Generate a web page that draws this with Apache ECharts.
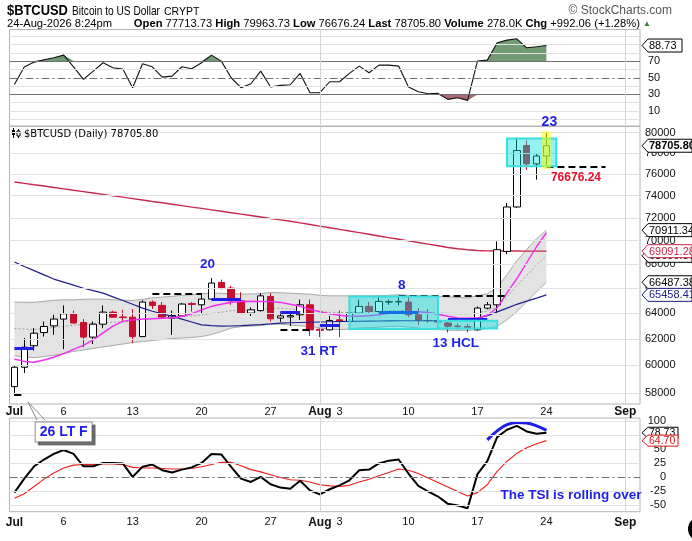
<!DOCTYPE html>
<html><head><meta charset="utf-8">
<script src="https://cdn.jsdelivr.net/npm/echarts@6/dist/echarts.min.js"></script>
<style>html,body{margin:0;padding:0;background:#fff;}#chart{width:692px;height:541px;}</style>
</head><body><div id="chart"></div>
<script>
// ---------- categories ----------
const dates = ['Jul 1','Jul 2','Jul 3','Jul 4','Jul 5','Jul 6','Jul 7','Jul 8','Jul 9','Jul 10','Jul 11','Jul 12','Jul 13','Jul 14','Jul 15','Jul 16','Jul 17','Jul 18','Jul 19','Jul 20','Jul 21','Jul 22','Jul 23','Jul 24','Jul 25','Jul 26','Jul 27','Jul 28','Jul 29','Jul 30','Jul 31','Aug 1','Aug 2','Aug 3','Aug 4','Aug 5','Aug 6','Aug 7','Aug 8','Aug 9','Aug 10','Aug 11','Aug 12','Aug 13','Aug 14','Aug 15','Aug 16','Aug 17','Aug 18','Aug 19','Aug 20','Aug 21','Aug 22','Aug 23','Aug 24','Aug 25','Aug 26','Aug 27','Aug 28','Aug 29','Aug 30','Aug 31','Sep 1','Sep 2'];
const xLabelMap = {'Jul 1':'Jul','Jul 6':'6','Jul 13':'13','Jul 20':'20','Jul 27':'27','Aug 1':'Aug','Aug 3':'3','Aug 10':'10','Aug 17':'17','Aug 24':'24','Sep 1':'Sep'};
const monthNames = ['Jul','Aug','Sep'];

// ---------- price (OHLC) ----------
const opens  = [58440,59860,61470,62480,63000,63530,63950,63260,62130,63130, 64080,63700,63680,62170,64880,64610,63610,63780,64760,64660, 65120,66470,66010,64980,64000,64200,65330,63610,63700,63870, 64660,62740,62690,63470,63340,64000,64530,64130,64880,64900, 64880,63870,63420,63400,63220,62980,62950,62690,64400,64660, 69070,72970,78720,76960,77713.73];
const closes = [59860,61360,62430,62950,63530,63950,63220,62130,63130,64080, 63680,63650,62170,64880,64610,63680,63810,64720,64690,65120, 66420,66010,64980,64000,64260,65380,63550,63780,63800,64660, 62690,62650,63420,63340,64000,64530,64130,64930,64900,64910, 63870,63420,63400,63300,62970,62950,62800,64400,64660,69220, 72970,78240,76960,77713.74,78705.80];
const lows   = [57780,59430,61100,62170,62300,61210,63150,61360,61600,62820, 63650,63390,61660,62130,64320,63530,62300,63730,64120,64000, 65100,65900,64660,63950,63780,64120,63340,63300,63000,63470, 62220,62130,62650,62130,63300,63950,64000,64050,64660,64610, 63680,63080,63220,62900,62480,62700,62500,62630,64300,64000, 68830,72900,76400,75480,76676.24];
const highs  = [60000,62060,62820,63340,63870,64610,64200,63530,63340,64610, 64200,64260,64320,65010,65010,64880,64200,64800,64880,65600, 66830,66700,66200,65680,64450,65600,65600,64050,64100,65080, 65080,62800,63780,64200,64400,65080,64880,65380,65080,65380, 65330,64400,64320,63700,63300,63200,63150,64520,64880,69930, 73330,79410,79210,78000,79963.73];

// ---------- overlays ----------
const sma200 = [75260,75130,75000,74880,74750,74620,74490,74370,74240,74110, 73980,73860,73730,73600,73470,73350,73220,73090,72960,72840, 72710,72580,72450,72330,72200,72070,71940,71820,71690,71550, 71410,71260,71120,70980,70830,70690,70550,70400,70260,70120, 69980,69840,69700,69560,69410,69300,69210,69150,69120,69110, 69100,69100,69095,69093,69091.28];
const sma50 = [68170,67800,67450,67100,66750,66500,66250,66000,65800,65600, 65300,65000,64700,64400,64150,63950,63740,63520,63300,63080, 63020,62980,62990,63020,63060,63100,63150,63220,63240,63260, 63280,63300,63320,63340,63350,63360,63370,63380,63390,63400, 63400,63400,63400,63400,63420,63450,63520,63610,63800,64100, 64400,64700,64950,65200,65458.41];
const ema10 = [60470,60290,60230,60400,60600,60880,61190,61500,61920,62450, 62980,63350,63470,63530,63550,63590,63630,63750,63950,64260, 64540,64700,64860,64930,64940,64930,64930,64850,64700,64540, 64300,64110,63950,63830,63750,63750,63790,63870,63980,64110, 64130,64110,64050,63910,63750,63610,63590,63610,63830,64420, 65620,66780,68110,69470,70700];
const bandUpper = [64880,64860,64860,64940,65020,65060,65060,65100,65120,65120, 65060,65020,65000,65100,65220,65280,65340,65420,65470,65550, 65600,65590,65550,65530,65530,65550,65660,65630,65590,65550, 65510,65420,65380,65380,65380,65380,65380,65380,65420,65470, 65420,65380,65340,65320,65300,65260,65220,65380,65550,66030, 67130,68280,69230,70160,70911.34];
const bandMid = [62790,62750,62720,62800,62880,62970,63050,63120,63200,63250, 63280,63310,63350,63450,63540,63610,63680,63740,63780,63860, 63960,64070,64190,64230,64250,64290,64390,64380,64320,64280, 64230,64140,64060,64050,64060,64100,64120,64140,64180,64210, 64160,64100,64040,64010,63980,63950,63930,64040,64170,64500, 65300,66200,67060,67930,68699.36];
const bandLower = [60700,60630,60570,60660,60740,60890,61040,61150,61270,61380, 61490,61600,61710,61790,61870,61940,62020,62060,62100,62170, 62330,62560,62830,62940,62980,63020,63130,63130,63060,63000, 62960,62860,62750,62710,62750,62830,62860,62900,62940,62960, 62900,62830,62750,62710,62670,62650,62650,62710,62790,62960, 63480,64110,64900,65710,66487.38];

// ---------- indicators ----------
const rsi = [42,62.8,68.8,71.6,74,77.2,63,48,58,68, 62,60.4,38,66.8,63.2,50.8,52,63.2,60.8,68, 77.2,70,50,38,42.8,58,38.8,40.8,41.6,55.2, 32,32,45.2,45.2,55.2,64,56,65.2,65.2,64, 38.8,33.2,30.8,31.2,24,26,22.8,70,71.2,92, 95.2,96.8,86,87.2,88.73];
const tsi = [-28,-3,19,31,41,48,41,19,19,25, 25,24,0,18,22,12,8,13,17,25, 41,40,18,-3,-9,0,-13,-19,-21,-7, -24,-31,-22,-15,-6,12,13,24,29,31, 6,-16,-26,-35,-48,-51,-56,5,28,71, 84,91,81,77,78.73];
const tsiSignal = [-38,-30,-17,-4,7,16,21,22,22,23, 23,22,17,16,16,15,14,14,15,18, 22,26,26,20,13,9,4,-1,-5,-6, -9,-14,-16,-17,-15,-9,-4,2,8,14, 12,6,-2,-10,-18,-26,-34,-28,-14,10, 28,42,52,59,64.70];

// ---------- axis ticks ----------
const priceTicks = [58000,60000,62000,64000,66000,68000,70000,72000,74000,76000,78000,80000];
const rsiGridVals = [0,10,20,30,40,50,60,70,80,90,100];
const rsiLabelVals = [10,30,50,70];
const tsiGridVals = [100,75,50,25,0,-25,-50];

// ---------- annotations ----------
const dashSegs = [['Jul 1','Jul 2',57830],['Jul 15','Jul 20',65520],['Jul 28','Jul 31',62710],['Aug 9','Aug 20',65370],['Aug 24','Aug 30',76676.24]];
const blueSegs = [['Jul 1','Jul 3',61260],['Jul 21','Jul 24',65090],['Jul 28','Jul 30',64080],['Aug 1','Aug 3',63020],['Aug 7','Aug 11',64080],['Aug 14','Aug 18',63550]];
const cyanBoxes = [['Aug 4','Aug 13',65330,62750],['Aug 13','Aug 19',63400,62790],['Aug 20','Aug 25',79410,76730]];
const yellowBox = [['Aug 24',80130,76480]];
const priceNotes = [['Jul 20',67940,'20',6],['Aug 1',61080,'31 RT',-1],['Aug 9',66280,'8',3],['Aug 15',61690,'13 HCL',-2]];
const arcDates = ['Aug 18','Aug 19','Aug 20','Aug 21','Aug 22','Aug 23','Aug 24'];
const arcValues = [66,82,93,97,96,91,83];
const mainTags = [{v:68699.36,c:'#000'},{v:70911.34,c:'#000'},{v:69091.28,c:'#c8284e'},{v:66487.38,c:'#000'},{v:65458.41,c:'#20208a'},{v:78705.80,c:'#000',b:true}];
const rsiTags = [{v:88.73,c:'#000'}];
const tsiTags = [{v:78.73,c:'#000'},{v:64.70,c:'#e01010'}];

// ---------- build ----------
const F = '"Liberation Sans", Arial, sans-serif';
const BLUE = '#1f1fe8';
const N = opens.length;
const candleData = opens.map((o,i)=>[o, closes[i], lows[i], highs[i]]);
const bandDiff = bandUpper.map((u,i)=>u - bandLower[i]);

const chart = echarts.init(document.getElementById('chart'));

function vLines(){
  return ['Aug 1','Sep 1'].map(d=>({xAxis:d, lineStyle:{color:'#d4d4d4', width:1, type:'solid'}, label:{show:false}}));
}
const gridLineStyle = {color:'#e2e2e2', width:1, type:'solid'};
const mlBase = {silent:true, symbol:['none','none'], animation:false};

const mainGridML = priceTicks.map(v=>({yAxis:v, lineStyle:gridLineStyle,
  label:{show:true, position:'end', distance:5, formatter:String(v), color:'#111', fontSize:11, fontFamily:F}})).concat(vLines());

const rsiGridML = rsiGridVals.map(v=>{
  let ls = gridLineStyle;
  if (v===70 || v===30) ls = {color:'#707070', width:1.2, type:'solid'};
  if (v===50) ls = {color:'#707070', width:1, type:[8,3,2,3]};
  return {yAxis:v, lineStyle:ls, label:{show:rsiLabelVals.includes(v), position:'end', distance:8, formatter:String(v), color:'#111', fontSize:11, fontFamily:F}};
}).concat(vLines());

const tsiGridML = tsiGridVals.map(v=>({yAxis:v,
  lineStyle: v===0 ? {color:'#707070', width:1, type:[8,3,2,3]} : gridLineStyle,
  label:{show:true, position:'end', distance:26, align:'right', formatter:String(v), color:'#111', fontSize:11, fontFamily:F}})).concat(vLines());

const annML = dashSegs.map(s=>{
  const item = [{coord:[s[0],s[2]]},{coord:[s[1],s[2]]}];
  item[0].lineStyle = {color:'#000', width:2, type:[7,4]};
  item[0].label = s[1]==='Aug 30'
    ? {show:true, position:'insideMiddleBottom', distance:5, formatter:'76676.24', color:'#e8112d', fontWeight:'bold', fontSize:12, fontFamily:F}
    : {show:false};
  return item;
}).concat(blueSegs.map(s=>{
  const item = [{coord:[s[0],s[2]]},{coord:[s[1],s[2]]}];
  item[0].lineStyle = {color:BLUE, width:3, type:'solid'};
  item[0].label = {show:false};
  return item;
}));

function noteLabel(txt, dx, fs){
  return {show:true, position:'inside', formatter:txt, offset:[dx,0], color:BLUE, fontSize:fs||13.5, fontWeight:'bold', fontFamily:F};
}
const priceNotePts = priceNotes.map(n=>({coord:[n[0],n[1]], symbol:'circle', symbolSize:1, itemStyle:{color:'rgba(0,0,0,0)'}, label:noteLabel(n[2], n[3])}));

function tagSeries(xi, yi, tags, w, h, fs){
  return {type:'custom', xAxisIndex:xi, yAxisIndex:yi, z:30, silent:true, clip:false, animation:false,
    data: tags.map(t=>[N-1, t.v]), encode:{x:0, y:1},
    renderItem(params, api){
      const t = tags[params.dataIndex];
      const p = api.coord([api.value(0), api.value(1)]);
      const cs = params.coordSys;
      const x0 = cs.x + cs.width + 2, y = p[1], hh = h/2;
      return {type:'group', children:[
        {type:'polygon', shape:{points:[[x0,y],[x0+6,y-hh],[x0+w,y-hh],[x0+w,y+hh],[x0+6,y+hh]]}, style:{fill:'#fff', stroke:t.c, lineWidth:1}},
        {type:'text', style:{x:x0+7, y:y+0.5, text:t.v.toFixed(2), fill:t.c, font:(t.b?'bold ':'')+fs+'px '+F, verticalAlign:'middle', align:'left'}}
      ]};
    }};
}

function xLab(margin){
  return {show:true, margin:margin, color:'#111', fontSize:11, fontFamily:F,
    interval:(i, v)=> Object.prototype.hasOwnProperty.call(xLabelMap, v),
    formatter:v=>{ const s = xLabelMap[v]; return monthNames.includes(s) ? '{b|'+s+'}' : s; },
    rich:{b:{fontWeight:'bold', fontSize:12, fontFamily:F, color:'#111'}}};
}
const xBase = {type:'category', data:dates, boundaryGap:true, axisTick:{show:false}, axisLine:{show:false}, splitLine:{show:false}};
const yHidden = {position:'right', axisLabel:{show:false}, axisLine:{show:false}, axisTick:{show:false}, splitLine:{show:false}};
const gridBase = {left:9.5, right:52, show:true, borderColor:'#b4b4b4', borderWidth:1, backgroundColor:'#fff'};
const lineBase = {type:'line', symbol:'none', showSymbol:false, silent:true, animation:false};

const headerRow2 = '{n|24-Aug-2026 8:24pm}{n|       }{b|Open}{n| 77713.73 }{b|High}{n| 79963.73 }{b|Low}{n| 76676.24 }{b|Last}{n| 78705.80 }{b|Volume}{n| 278.0K }{b|Chg}{n| +992.06 (+1.28%) }{t|\u25B2}';

const option = {
  animation:false,
  backgroundColor:'#fff',
  grid:[
    Object.assign({top:29.5, height:96.5}, gridBase),
    Object.assign({top:126.5, height:277.5}, gridBase),
    Object.assign({top:418, height:93.7}, gridBase)
  ],
  xAxis:[
    Object.assign({gridIndex:0, axisLabel:{show:false}}, xBase),
    Object.assign({gridIndex:1, axisLabel:xLab(2)}, xBase),
    Object.assign({gridIndex:2, axisLabel:xLab(5)}, xBase)
  ],
  yAxis:[
    Object.assign({type:'value', gridIndex:0, min:-8, max:108}, yHidden),
    Object.assign({type:'log', logBase:10, gridIndex:1, min:57200, max:80600}, yHidden),
    Object.assign({type:'value', gridIndex:2, min:-62, max:105}, yHidden)
  ],
  series:[
    // ---- RSI panel ----
    Object.assign({}, lineBase, {name:'rsiHi', xAxisIndex:0, yAxisIndex:0, z:2, data:rsi.map(v=>Math.max(v,70)),
      lineStyle:{width:0, opacity:0}, areaStyle:{origin:70, color:'#729b75', opacity:1},
      markLine:Object.assign({data:rsiGridML}, mlBase)}),
    Object.assign({}, lineBase, {name:'rsiLo', xAxisIndex:0, yAxisIndex:0, z:2, data:rsi.map(v=>Math.min(v,30)),
      lineStyle:{width:0, opacity:0}, areaStyle:{origin:30, color:'#a66b74', opacity:1}}),
    Object.assign({}, lineBase, {name:'RSI', xAxisIndex:0, yAxisIndex:0, z:3, data:rsi, lineStyle:{color:'#111', width:1.1},
      markPoint:{silent:true, animation:false, data:[{coord:['Aug 24',-3], symbol:'circle', symbolSize:1, itemStyle:{color:'rgba(0,0,0,0)'}, label:noteLabel('23',3,14)}]}}),
    tagSeries(0, 0, rsiTags, 40, 13, 11),

    // ---- price panel ----
    Object.assign({}, lineBase, {name:'bandBase', xAxisIndex:1, yAxisIndex:1, z:1, stack:'band', data:bandLower,
      lineStyle:{width:0, opacity:0}, markLine:Object.assign({data:mainGridML}, mlBase)}),
    Object.assign({}, lineBase, {name:'bandFill', xAxisIndex:1, yAxisIndex:1, z:1, stack:'band', data:bandDiff,
      lineStyle:{width:0, opacity:0}, areaStyle:{color:'#e3e3e3', opacity:1}}),
    Object.assign({}, lineBase, {name:'bandUpper', xAxisIndex:1, yAxisIndex:1, z:2, data:bandUpper, lineStyle:{color:'#a8a8a8', width:1}}),
    Object.assign({}, lineBase, {name:'bandLower', xAxisIndex:1, yAxisIndex:1, z:2, data:bandLower, lineStyle:{color:'#a8a8a8', width:1}}),
    Object.assign({}, lineBase, {name:'bandMid', xAxisIndex:1, yAxisIndex:1, z:2, data:bandMid, lineStyle:{color:'#a0a0a0', width:1, type:[2,2]}}),
    Object.assign({}, lineBase, {name:'SMA200', xAxisIndex:1, yAxisIndex:1, z:2, data:sma200, lineStyle:{color:'#c8284e', width:1.4}}),
    {type:'candlestick', name:'BTCUSD', xAxisIndex:1, yAxisIndex:1, z:3, data:candleData, barWidth:7, silent:true, animation:false,
      itemStyle:{color:'#ffffff', color0:'#c8102e', borderColor:'#000', borderColor0:'#c8102e', borderWidth:1}},
    Object.assign({}, lineBase, {name:'SMA50', xAxisIndex:1, yAxisIndex:1, z:4, data:sma50, lineStyle:{color:'#20208a', width:1.2}}),
    Object.assign({}, lineBase, {name:'EMA', xAxisIndex:1, yAxisIndex:1, z:4, data:ema10, lineStyle:{color:'#f22cf0', width:1.4}}),
    {type:'custom', name:'boxes', xAxisIndex:1, yAxisIndex:1, z:5, silent:true, animation:false,
      data: cyanBoxes.map(b=>[dates.indexOf(b[0]), dates.indexOf(b[1]), b[2], b[3]]), encode:{x:[0,1], y:[2,3]},
      renderItem(params, api){
        const p1 = api.coord([api.value(0), api.value(2)]);
        const p2 = api.coord([api.value(1), api.value(3)]);
        return {type:'rect', shape:{x:p1[0], y:p1[1], width:p2[0]-p1[0], height:p2[1]-p1[1]},
          style:{fill:'rgba(0,225,225,0.42)', stroke:'#3adede', lineWidth:2}};
      }},
    Object.assign({}, lineBase, {name:'annot', xAxisIndex:1, yAxisIndex:1, z:6, data:closes.map(()=>null),
      markLine:Object.assign({data:annML}, mlBase),
      markPoint:{silent:true, animation:false, data:priceNotePts}}),
    {type:'custom', name:'highlight', xAxisIndex:1, yAxisIndex:1, z:6, silent:true, animation:false,
      data: yellowBox.map(b=>[dates.indexOf(b[0]), b[1], b[2]]), encode:{x:0, y:[1,2]},
      renderItem(params, api){
        const i = api.value(0);
        const top = api.coord([i, api.value(1)]);
        const bot = api.coord([i, api.value(2)]);
        const prev = api.coord([i-1, api.value(1)]);
        const w = (top[0]-prev[0])*0.88;
        return {type:'rect', shape:{x:top[0]-w/2, y:top[1], width:w, height:bot[1]-top[1]}, style:{fill:'rgba(255,255,0,0.55)'}};
      }},
    tagSeries(1, 1, mainTags, 50, 13, 11),

    // ---- TSI panel ----
    Object.assign({}, lineBase, {name:'Signal', xAxisIndex:2, yAxisIndex:2, z:2, data:tsiSignal, lineStyle:{color:'#ee1c1c', width:1.1},
      markLine:Object.assign({data:tsiGridML}, mlBase)}),
    Object.assign({}, lineBase, {name:'TSI', xAxisIndex:2, yAxisIndex:2, z:3, data:tsi, lineStyle:{color:'#000', width:2},
      markPoint:{silent:true, animation:false, data:[
        {coord:['Aug 27',-32], symbol:'circle', symbolSize:1, itemStyle:{color:'rgba(0,0,0,0)'}, label:noteLabel('The TSI is rolling over',-5,13.5)},
        {coord:['Jul 6',80], symbol:'circle', symbolSize:1, itemStyle:{color:'rgba(0,0,0,0)'},
          label:Object.assign(noteLabel('26 LT F',0,14), {backgroundColor:'#fff', borderColor:'#8a8a8a', borderWidth:1, padding:[3,4,2,4],
            shadowColor:'rgba(0,0,0,0.45)', shadowOffsetX:3, shadowOffsetY:3, shadowBlur:0})}
      ]}}),
    Object.assign({}, lineBase, {name:'arc', xAxisIndex:2, yAxisIndex:2, z:4, smooth:true, data:arcDates.map((d,i)=>[d, arcValues[i]]), lineStyle:{color:BLUE, width:3}}),
    tagSeries(2, 2, tsiTags, 36, 11, 10.5)
  ],
  graphic:[
    {type:'text', x:7, y:3, scaleX:0.86, z:100, style:{text:'$BTCUSD', font:'bold 15px '+F, fill:'#000', verticalAlign:'top'}},
    {type:'text', x:72, y:4.5, scaleX:0.78, z:100, style:{text:'Bitcoin to US Dollar', font:'13px '+F, fill:'#000', verticalAlign:'top'}},
    {type:'text', x:164, y:6.5, z:100, style:{text:'CRYPT', font:'10.5px '+F, fill:'#000', verticalAlign:'top'}},
    {type:'text', right:20, top:5, z:100, style:{text:'\u00a9 StockCharts.com', font:'12px '+F, fill:'#555'}},
    {type:'text', x:7, y:18, z:100, style:{text:headerRow2, verticalAlign:'top',
      rich:{n:{font:'11.2px '+F, fill:'#000'}, b:{font:'bold 11.2px '+F, fill:'#000'}, t:{font:'8px '+F, fill:'#3b7a3b'}}}},
    {type:'group', x:12, y:128, z:100, children:[
      {type:'line', shape:{x1:1.5, y1:0, x2:1.5, y2:10}, style:{stroke:'#000', lineWidth:1}},
      {type:'rect', shape:{x:0, y:2, width:3, height:5}, style:{fill:'#000'}},
      {type:'line', shape:{x1:6.5, y1:1, x2:6.5, y2:10}, style:{stroke:'#000', lineWidth:1}},
      {type:'rect', shape:{x:5, y:3, width:3, height:5}, style:{fill:'#fff', stroke:'#000', lineWidth:1}}
    ]},
    {type:'text', left:24, top:129, z:100, style:{text:'$BTCUSD (Daily) 78705.80', font:'10px "DejaVu Sans", sans-serif', fill:'#000'}},
    {type:'polyline', z:100, shape:{points:[[37,420],[28,402],[45,420]]}, style:{stroke:'#8a8a8a', fill:null, lineWidth:1}},
    {type:'circle', z:100, shape:{cx:700, cy:529, r:12}, style:{fill:'#000'}}
  ]
};
chart.setOption(option);
</script>
</body></html>
